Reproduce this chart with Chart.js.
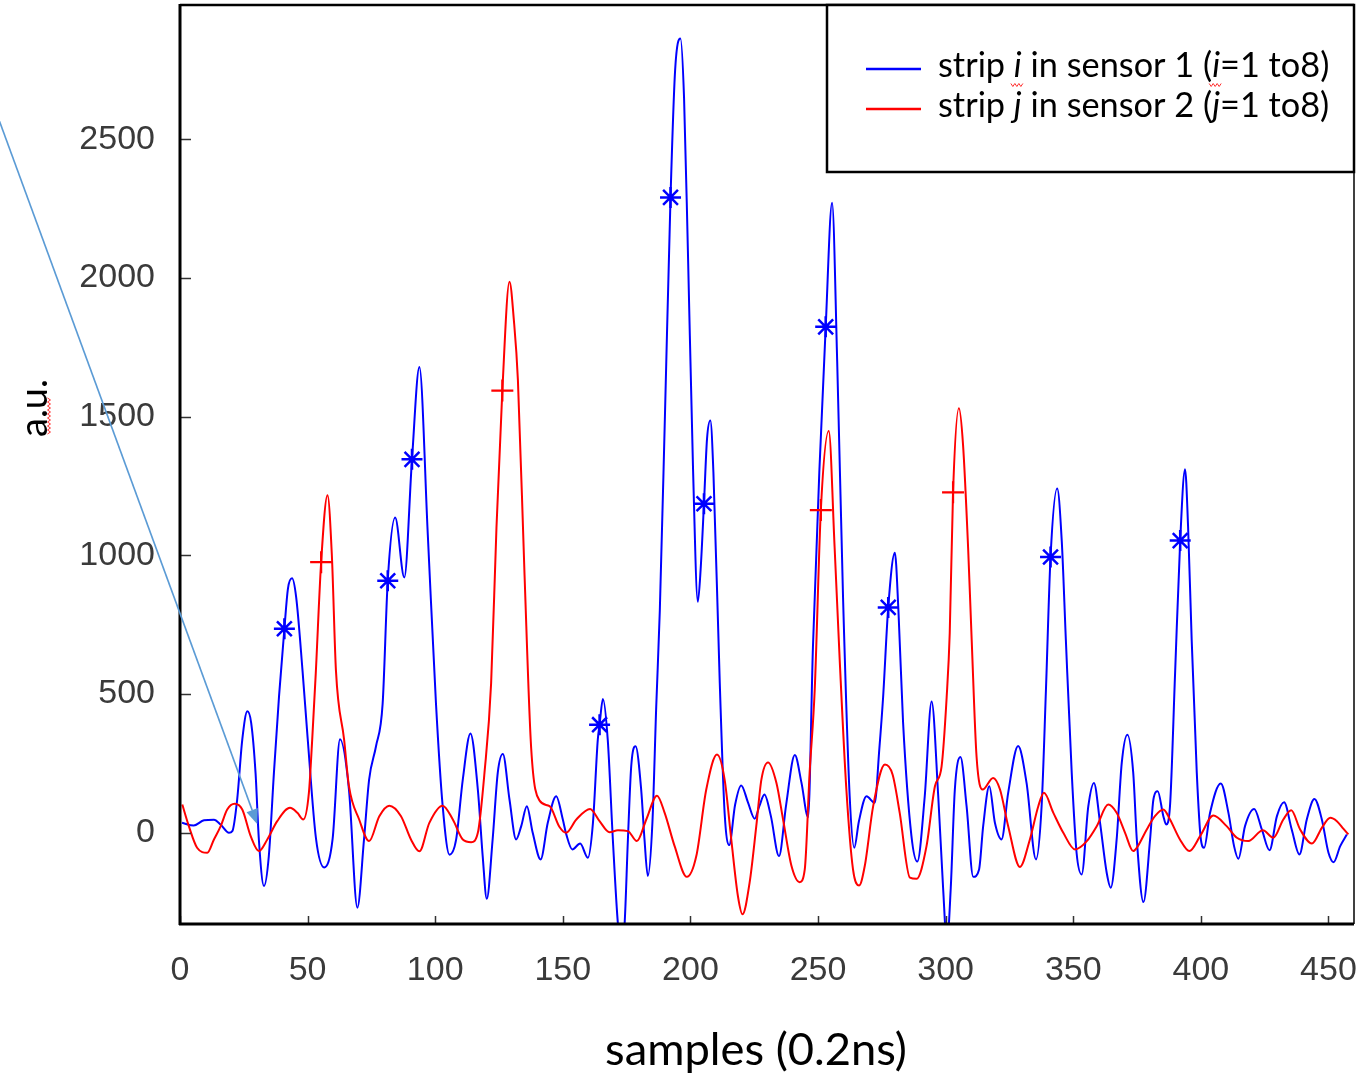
<!DOCTYPE html>
<html><head><meta charset="utf-8">
<script src="https://cdn.jsdelivr.net/npm/chart.js@4.4.0/dist/chart.umd.min.js"></script>
<style>html,body{margin:0;padding:0;background:#fff;}canvas{display:block;}</style>
</head><body>
<canvas id="c" width="1358" height="1077" style="width:1358px;height:1077px"></canvas>
<script>
// ---- data ----
const blueX = [0.8,5.4,9.4,13.3,15.9,19.2,20.5,22.4,24.4,26.4,27.9,29.6,30.9,32.9,34.8,36.8,38.8,40.9,42.3,43.9,45.5,48,50,53.3,56.5,59.8,62.7,66.2,69.5,72.1,74.1,76.8,79.4,81.4,84.3,87.9,90.9,93.8,97.1,100.3,102.9,105.6,108.2,110.8,113.8,116.7,118.6,120.2,122.5,124.5,126.5,129.1,131.7,133.7,135.9,138.2,141.3,144.1,147.4,150,151.3,153.7,156.8,159.8,161.8,163.7,164.4,165.7,167.6,169.6,171.6,173,174.2,175.5,176.8,178.5,180.7,182,183.3,185.1,186.6,188,190,192.2,194,196.1,197.5,199,201,202.9,204,205.3,206.5,207.8,209,211.5,213.4,215.2,217.5,219.9,222.5,225.2,227,229,231.5,234.7,237.5,240.9,243.5,246.1,248,250.5,253,255.5,257.5,259.8,262.4,264.2,266,269,272.2,274,275.5,277.5,280.1,281.5,283.3,286.6,288.9,291.8,294.5,297.1,299,300.5,302,303.6,305.8,308.2,310.8,313.1,314.7,317.1,319.3,321.9,324.5,328.4,331.7,335.4,337.6,339.3,341.1,343.7,345.5,347.1,349.4,351.3,353.3,355.9,358.1,360.5,363.1,364.7,367,369,371.2,373.5,374.9,377.5,380.1,381.4,383.1,385.3,386.4,387.9,389.9,391.9,393.8,395,396.4,398.4,400,401.3,403.6,407.8,410.8,413,414.7,417.3,420.9,423.9,426.9,429.8,432.6,435.6,438.6,441.5,444.5,447.4,450,452,454.6,457.2];
const blueY = [35,25,44,46,29,-1,5,119,335,437,395,215,-25,-193,-85,215,491,735,880,917,850,585,342,-23,-126,-23,336,155,-271,-25,191,311,465,908,1136,920,1346,1679,1073,465,98,-80,-25,191,357,155,-85,-239,-25,215,283,119,-25,23,95,-1,-97,35,131,47,-5,-61,-40,-91,35,335,389,482,335,-25,-331,-420,-331,-25,239,311,155,-25,-157,35,455,800,1500,2291,2750,2864,2650,2100,1319,832,950,1186,1420,1486,1300,538,70,-45,100,170,110,50,95,137,60,-85,100,280,180,55,668,1300,1824,2272,1700,847,130,-55,40,131,107,300,489,812,1009,800,400,-13,-105,130,473,130,-200,-400,-200,155,272,95,-160,-133,23,167,35,-25,143,312,179,-97,95,515,994,1241,1050,695,215,-73,-151,95,179,35,-145,-199,-25,251,353,215,-25,-251,-25,119,149,59,29,95,575,1053,1310,1100,695,215,-25,-55,71,177,71,-49,-95,23,85,11,-64,59,109,11,-79,47,121,47,-73,-107,-49,-7];
const redX = [0.9,3.5,6.7,10.7,13.3,15.9,18.5,21.4,24.4,27.7,30.9,34.2,38.1,43.1,46,48.3,50.5,51.8,53.2,55.3,57.8,59.5,61.1,64.3,66.2,70.2,74.1,78.1,82,86.6,90.5,93.8,97.7,102.9,106.9,110.8,114.1,116.7,119.3,121.9,124,126.3,129.1,130.8,132.4,135,137.6,140.9,144.8,148.7,151.3,155.3,160.7,164.4,168.3,171.6,175.5,179,182.7,186.9,189.9,193.8,198.6,202.3,206.2,210.4,213.4,216,218.6,220.4,223.2,225.8,227.8,230.4,233.7,236.3,239.6,242.8,244.8,246.7,248.7,251.1,254.2,256.5,258.5,261.1,263.7,266.1,268.3,271.6,276.2,279.2,282,286,288.6,292.5,295.8,298.4,300.4,301.6,302.9,305.2,306.8,308.8,310.2,312.1,314.5,318.6,321.3,324.5,329.1,333,336.3,338.5,342.2,346.1,350.7,355.3,359.2,363.7,367,370.3,373.5,374.9,378.8,382,385.3,387.9,391.8,395.5,399.7,404.9,410.1,414.1,418.6,424.3,428.4,432.3,435.4,438.9,443.5,447.4,450.7,453.3,455.9,457.8];
const redY = [101,22,-55,-73,-25,22,83,104,83,-13,-67,-25,41,89,71,47,143,335,575,975,1217,1000,585,335,167,47,-31,59,97,59,-25,-68,35,97,47,-25,-35,-1,215,538,1100,1594,1987,1850,1632,929,304,115,95,20,-1,47,85,41,1,8,5,-31,47,133,71,-49,-160,-85,155,281,191,-25,-229,-295,-180,23,191,253,179,47,-121,-179,-133,215,515,1163,1448,1027,620,155,-133,-191,-121,95,245,209,71,-163,-167,-49,167,238,489,720,1227,1530,1400,1027,695,275,155,197,155,23,-124,-25,95,143,71,-1,-61,-31,23,101,71,-1,-67,-55,11,59,83,47,-25,-67,-13,61,23,-19,-31,8,-19,47,80,11,-40,17,53,41,13,-7];
const starX = [40.9,81.4,90.9,164.4,192.2,205.3,253,277.5,341.1,391.9];
const starY = [735,908,1346,389,2291,1186,1824,812,994,1053];
const plusX = [55.3,126.3,251.1,302.9];
const plusY = [975,1594,1163,1227];
const xTicks = [0,50,100,150,200,250,300,350,400,450];
const yTicks = [0,500,1000,1500,2000,2500];
const xTitle = 'samples (0.2ns)';
const yTitle = 'a.u.';
const legendLines = [
  [['strip ',false],['i',true],[' in sensor 1 (',false],['i',true],['=1 to8)',false]],
  [['strip ',false],['j',true],[' in sensor 2 (',false],['j',true],['=1 to8)',false]]
];
const legendColors = ['#0000ff','#ff0000'];
// arrow annotation in data coordinates (start, end)
const arrowFrom = [-70.9, 2570];
const arrowTo = [30.3, 30];

const pts = (xs, ys) => xs.map((v, i) => ({x: v, y: ys[i]}));
const TITLE_FAMILY = 'Lato, "Open Sans", sans-serif';

// choose a font size so that text reaches the wanted width
const mctx = document.createElement('canvas').getContext('2d');
function fitSize(text, family, target, style) {
  mctx.font = (style || '') + ' 100px ' + family;
  return 100 * target / mctx.measureText(text).width;
}
const legendSize = fitSize(legendLines[0].map(s => s[0]).join(''), TITLE_FAMILY, 392);
const xTitleSize = fitSize(xTitle, TITLE_FAMILY, 302);
const yTitleSize = fitSize(yTitle, TITLE_FAMILY, 58);

function squiggle(ctx, x0, y0, len, vertical) {
  ctx.save();
  ctx.strokeStyle = '#ff3030'; ctx.lineWidth = 1;
  ctx.beginPath();
  const step = 2;
  for (let t = 0, k = 0; t <= len; t += step, k++) {
    const off = (k % 2 ? 1.5 : -1.5);
    if (vertical) { if (k === 0) ctx.moveTo(x0 + off, y0 - t); else ctx.lineTo(x0 + off, y0 - t); }
    else { if (k === 0) ctx.moveTo(x0 + t, y0 + off); else ctx.lineTo(x0 + t, y0 + off); }
  }
  ctx.stroke();
  ctx.restore();
}

const decor = {
  id: 'decor',
  afterDraw(chart) {
    const {ctx, chartArea: a, scales: {x, y}} = chart;
    ctx.save();
    // inward tick marks
    ctx.strokeStyle = '#333'; ctx.lineWidth = 1.5;
    yTicks.forEach(v => { const p = Math.round(y.getPixelForValue(v)) + 0.5; ctx.beginPath(); ctx.moveTo(a.left, p); ctx.lineTo(a.left + 11, p); ctx.stroke(); });
    xTicks.forEach(v => { const p = Math.round(x.getPixelForValue(v)) + 0.5; ctx.beginPath(); ctx.moveTo(p, a.bottom); ctx.lineTo(p, a.bottom - 8); ctx.stroke(); });
    // frame
    ctx.strokeStyle = '#000';
    const seg = (x1, y1, x2, y2, w) => { ctx.lineWidth = w; ctx.beginPath(); ctx.moveTo(x1, y1); ctx.lineTo(x2, y2); ctx.stroke(); };
    seg(a.left, a.top, a.right, a.top, 2.5);
    seg(a.right, a.top, a.right, a.bottom, 1.5);
    seg(a.left - 1, a.bottom, a.right, a.bottom, 3);
    seg(a.left, a.top - 1, a.left, a.bottom + 1, 3);
    // legend box
    const lx = 827, ly = a.top, lw = a.right - lx, lh = 167;
    ctx.fillStyle = '#fff'; ctx.fillRect(lx, ly, lw, lh);
    ctx.strokeStyle = '#000'; ctx.lineWidth = 2.5; ctx.strokeRect(lx, ly, lw, lh);
    const rows = [66, 106];
    legendLines.forEach((segs, r) => {
      ctx.strokeStyle = legendColors[r]; ctx.lineWidth = 2.5;
      ctx.beginPath(); ctx.moveTo(866, rows[r] + 3); ctx.lineTo(921, rows[r] + 3); ctx.stroke();
      let tx = 938;
      ctx.fillStyle = '#000'; ctx.textBaseline = 'middle'; ctx.textAlign = 'left';
      segs.forEach(([txt, it]) => {
        ctx.font = (it ? 'italic ' : '') + legendSize.toFixed(1) + 'px ' + TITLE_FAMILY;
        ctx.fillText(txt, tx, rows[r]);
        const w = ctx.measureText(txt).width;
        if (it && r === 0) squiggle(ctx, tx - 3, rows[r] + 19, w + 6, false);
        tx += w;
      });
    });
    // y title
    ctx.save();
    ctx.translate(35, 408); ctx.rotate(-Math.PI / 2);
    ctx.font = yTitleSize.toFixed(1) + 'px ' + TITLE_FAMILY;
    ctx.fillStyle = '#000'; ctx.textAlign = 'center'; ctx.textBaseline = 'middle';
    ctx.fillText(yTitle, 0, 0);
    ctx.restore();
    squiggle(ctx, 49, 434, 36, true);
    // x title
    ctx.font = xTitleSize.toFixed(1) + 'px ' + TITLE_FAMILY;
    ctx.fillStyle = '#000'; ctx.textAlign = 'center'; ctx.textBaseline = 'middle';
    ctx.fillText(xTitle, 756, 1050);
    // arrow
    const ax1 = x.getPixelForValue(arrowFrom[0]), ay1 = y.getPixelForValue(arrowFrom[1]);
    const ax2 = x.getPixelForValue(arrowTo[0]), ay2 = y.getPixelForValue(arrowTo[1]);
    const ang = Math.atan2(ay2 - ay1, ax2 - ax1);
    const hl = 15, hw = 6;
    const bx = ax2 - hl * Math.cos(ang), by = ay2 - hl * Math.sin(ang);
    ctx.strokeStyle = '#5b9bd5'; ctx.fillStyle = '#5b9bd5'; ctx.lineWidth = 1.6;
    ctx.beginPath(); ctx.moveTo(ax1, ay1); ctx.lineTo(bx, by); ctx.stroke();
    ctx.beginPath();
    ctx.moveTo(ax2, ay2);
    ctx.lineTo(bx + hw * Math.sin(ang), by - hw * Math.cos(ang));
    ctx.lineTo(bx - hw * Math.sin(ang), by + hw * Math.cos(ang));
    ctx.closePath(); ctx.fill();
    ctx.restore();
  }
};

const tickFont = {family: '"Liberation Sans", Arial, sans-serif', size: 34};
new Chart(document.getElementById('c'), {
  type: 'line',
  data: {
    datasets: [
      {data: pts(blueX, blueY), borderColor: '#0000ff', borderWidth: 2, pointRadius: 0, cubicInterpolationMode: 'monotone', fill: false, order: 3},
      {data: pts(redX, redY), borderColor: '#ff0000', borderWidth: 2, pointRadius: 0, cubicInterpolationMode: 'monotone', fill: false, order: 2},
      {data: pts(starX, starY), showLine: false, pointStyle: 'star', pointRadius: 10.5, borderColor: '#0000ff', pointBorderWidth: 2.5, backgroundColor: '#0000ff', order: 1},
      {data: pts(plusX, plusY), showLine: false, pointStyle: 'cross', pointRadius: 11, borderColor: '#ff0000', pointBorderWidth: 2.2, backgroundColor: '#ff0000', order: 1}
    ]
  },
  options: {
    responsive: false, animation: false, devicePixelRatio: 1,
    layout: {padding: {top: 5, right: 4, left: 0, bottom: 0}, autoPadding: false},
    plugins: {legend: {display: false}, tooltip: {enabled: false}},
    scales: {
      x: {
        type: 'linear', min: 0, max: 460,
        grid: {display: false, drawTicks: false},
        border: {display: false},
        ticks: {font: tickFont, color: '#3a3a3a', padding: 26, maxRotation: 0, callback: v => String(v)},
        afterBuildTicks: s => { s.ticks = xTicks.map(v => ({value: v})); },
        afterFit: s => { s.height = 153; s.paddingLeft = 0; s.paddingRight = 0; },
        title: {display: false}
      },
      y: {
        type: 'linear', min: -330, max: 2985,
        grid: {display: false, drawTicks: false},
        border: {display: false},
        ticks: {font: tickFont, color: '#3a3a3a', padding: 25, callback: v => String(v)},
        afterBuildTicks: s => { s.ticks = yTicks.map(v => ({value: v})); },
        afterFit: s => { s.width = 180; s.paddingTop = 0; s.paddingBottom = 0; },
        title: {display: false}
      }
    }
  },
  plugins: [decor]
});
</script>
</body></html>
